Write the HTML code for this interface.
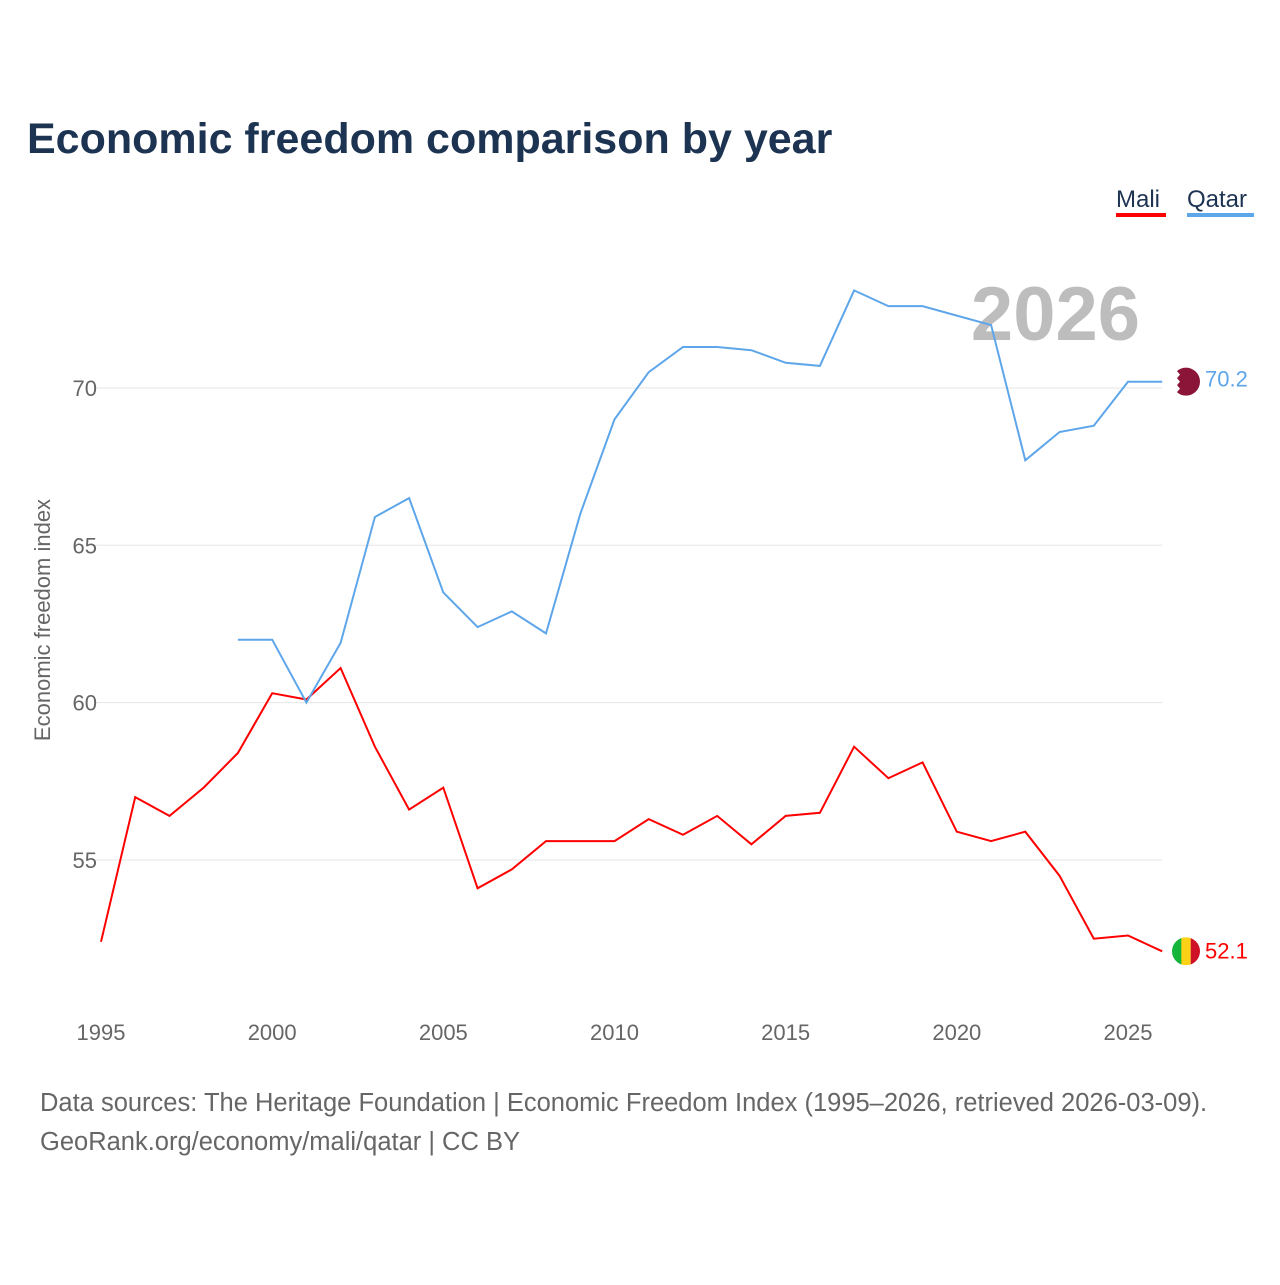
<!DOCTYPE html>
<html><head><meta charset="utf-8"><style>
body{margin:0;background:#fff;font-family:"Liberation Sans",sans-serif}
svg text{font-family:"Liberation Sans",sans-serif}
</style></head><body>
<svg width="1280" height="1280" viewBox="0 0 1280 1280">
<text x="27" y="153" font-size="43" font-weight="bold" fill="#1d3352">Economic freedom comparison by year</text>
<g><text x="1116" y="207" font-size="24" fill="#1d3352">Mali</text><rect x="1116" y="213" width="50" height="4" fill="#f00"/></g>
<g><text x="1187" y="207" font-size="24" fill="#1d3352">Qatar</text><rect x="1187" y="213" width="67" height="4" fill="#5ea6ea"/></g>
<text x="1140" y="340" font-size="76" font-weight="bold" fill="#bdbdbd" text-anchor="end">2026</text>
<g id="grid"></g><g id="xt"></g>
<text transform="translate(50,620) rotate(-90)" font-size="22" fill="#666" text-anchor="middle">Economic freedom index</text>
<g id="lines"></g>
<text x="40" y="1111" font-size="25.5" fill="#666">Data sources: The Heritage Foundation | Economic Freedom Index (1995–2026, retrieved 2026-03-09).</text>
<text x="40" y="1150" font-size="25.5" fill="#666">GeoRank.org/economy/mali/qatar | CC BY</text>
</svg>
<script>
const years=[1995,1996,1997,1998,1999,2000,2001,2002,2003,2004,2005,2006,2007,2008,2009,2010,2011,2012,2013,2014,2015,2016,2017,2018,2019,2020,2021,2022,2023,2024,2025,2026];
const mali=[52.4,57.0,56.4,57.3,58.4,60.3,60.1,61.1,58.6,56.6,57.3,54.1,54.7,55.6,55.6,55.6,56.3,55.8,56.4,55.5,56.4,56.5,58.6,57.6,58.1,55.9,55.6,55.9,54.5,52.5,52.6,52.1];
const qatar=[null,null,null,null,62.0,62.0,60.0,61.9,65.9,66.5,63.5,62.4,62.9,62.2,66.0,69.0,70.5,71.3,71.3,71.2,70.8,70.7,73.1,72.6,72.6,72.3,72.0,67.7,68.6,68.8,70.2,70.2];
const yTicks=[55,60,65,70];
const xTicks=[1995,2000,2005,2010,2015,2020,2025];
const NS="http://www.w3.org/2000/svg";
const X=y=>101+(y-1995)*34.233, Y=v=>860-(v-55)*31.47;
function mk(t,a,p){const e=document.createElementNS(NS,t);for(const k in a)e.setAttribute(k,a[k]);p.appendChild(e);return e;}
const g=document.getElementById('grid');
yTicks.forEach(v=>{
const l=mk('line',{x1:95,x2:1162,y1:Y(v),y2:Y(v),stroke:'#e6e6e6','stroke-width':1},g);


const t=mk('text',{x:97,y:Y(v)+8,'font-size':22,fill:'#666','text-anchor':'end'},g);t.textContent=v;


});
const xt=document.getElementById('xt');
xTicks.forEach(v=>{const t=mk('text',{x:X(v),y:1040,'font-size':22,fill:'#666','text-anchor':'middle'},xt);t.textContent=v;

});
const L=document.getElementById('lines');
function series(vals,col,name,flag,dy){
let d='';vals.forEach((v,i)=>{if(v==null)return;d+=(d?'L':'M')+X(years[i]).toFixed(1)+','+Y(v).toFixed(1);});
const p=mk('path',{d:d,fill:'none',stroke:col,'stroke-width':2},L);


const lv=vals[vals.length-1],cy=Y(lv);
const fg=mk('g',{},L);


flag(fg,1186,cy);
const t=mk('text',{x:1205,y:cy+dy,'font-size':22,fill:col},L);t.textContent=lv.toFixed(1);


}
series(mali,'#f00','mali',(g,cx,cy)=>{
const cp=mk('clipPath',{id:'cm'},g);
mk('circle',{cx:cx,cy:cy,r:14},cp);
const gg=mk('g',{'clip-path':'url(#cm)'},g);
mk('rect',{x:cx-14,y:cy-14,width:10,height:28,fill:'#14b53a'},gg);
mk('rect',{x:cx-4.7,y:cy-14,width:9.4,height:28,fill:'#fcd116'},gg);
mk('rect',{x:cx+4.7,y:cy-14,width:10,height:28,fill:'#ce1126'},gg);
},7);
series(qatar,'#5ea6ea','qatar',(g,cx,cy)=>{
mk('circle',{cx:cx,cy:cy,r:14,fill:'#8a1538'},g);
mk('path',{d:`M${cx-14},${cy-14}h8l-3,3.5l3,3.5l-3,3.5l3,3.5l-3,3.5l3,3.5l-3,3.5l3,3.5h-8z`,fill:'#fff'},g);
},5);
</script>
</body></html>
